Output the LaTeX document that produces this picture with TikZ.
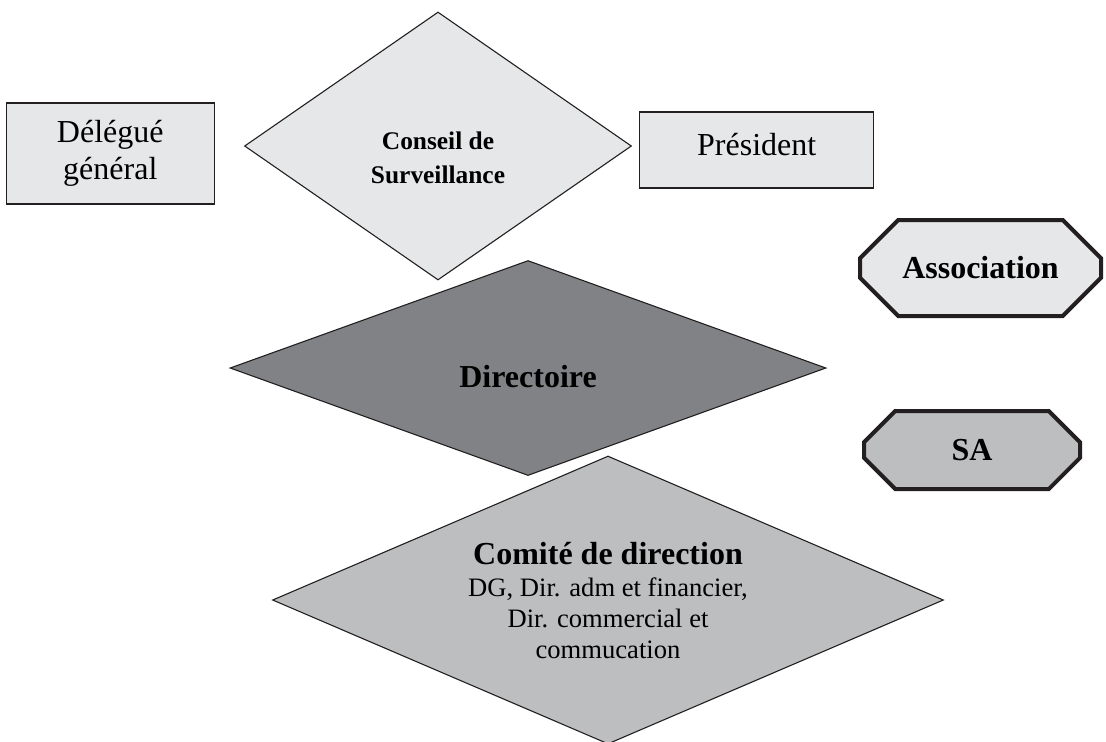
\documentclass[tikz,border=0pt]{standalone}
\usepackage{fontspec}
\setmainfont{Liberation Serif}
\usetikzlibrary{positioning,shapes.geometric,shapes.misc}
\definecolor{ink}{HTML}{231F20}
\definecolor{pale}{HTML}{E6E7E8}
\definecolor{mid}{HTML}{BCBEC0}
\definecolor{dark}{HTML}{808285}

\begin{document}
\begin{tikzpicture}[
  x=0.5pt, y=-0.5pt,
  box/.style={draw=ink, fill=pale, line width=0.65pt, inner sep=0pt, align=center,
              font=\fontsize{16}{18.5}\selectfont},
  dia/.style={diamond, draw=ink, line width=0.55pt, inner sep=0pt, align=center},
  oct/.style={chamfered rectangle, draw=ink, line width=2pt, inner sep=0pt,
              font=\fontsize{16}{19}\selectfont\bfseries},
]
\useasboundingbox (0,0) rectangle (1106,741);
% top row
\node[dia, fill=pale, aspect=1.44, minimum width=193.5pt, minimum height=134pt,
  font=\fontsize{12.7}{17}\selectfont\bfseries] (cons) at (438,146)
  {\rule{0pt}{20.5pt}Conseil de\\Surveillance};
\node[box, minimum width=104pt, minimum height=50.5pt, left=14.5pt of cons, yshift=-3.75pt]
  (deleg) {Délégué\\général};
\node[box, minimum width=117pt, minimum height=38pt, right=3.5pt of cons, yshift=-2pt,
  text height=9pt, text depth=4pt] (pres) {Président};
% central stack
\node[dia, fill=dark, aspect=2.77, minimum width=298pt, minimum height=107.5pt,
  text height=19pt, text depth=0pt, font=\fontsize{16}{18}\selectfont\bfseries]
  (direc) at (528,368) {Directoire};
\node[dia, fill=mid, aspect=2.33, minimum width=335.5pt, minimum height=144pt,
  font=\fontsize{13.3}{15.5}\selectfont] (comite) at (608,600)
  {{\fontsize{16}{15}\selectfont\bfseries Comité de direction}\\[0.5pt]DG, Dir. adm et financier,\\
   Dir. commercial et\\ commucation};
% legend
\node[oct, fill=pale, minimum width=120.5pt, minimum height=48pt,
  chamfered rectangle xsep=13.5pt, chamfered rectangle ysep=13.5pt] (assoc) at (980.5,268)
  {Association};
\node[oct, fill=mid, minimum width=108pt, minimum height=39pt,
  chamfered rectangle xsep=11.5pt, chamfered rectangle ysep=11.5pt] (sa) at (972,450) {SA};
\end{tikzpicture}
\end{document}
